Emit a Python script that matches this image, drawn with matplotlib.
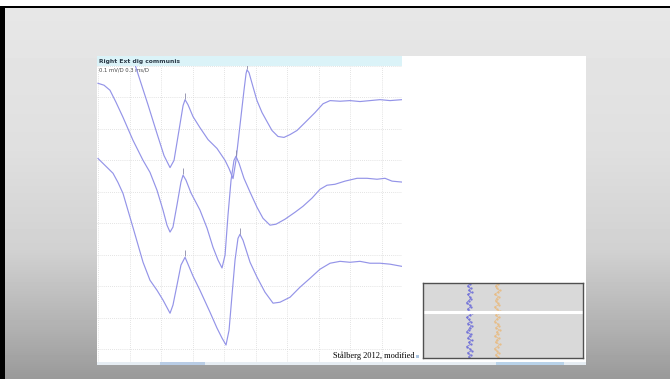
import numpy as np
import matplotlib
matplotlib.use("Agg")
import matplotlib.pyplot as plt
from matplotlib.patches import Rectangle

# --- data: three consecutive sweeps (time in ms, amplitude in mV relative to each sweep's baseline)
t1 = [0.286, 0.371, 0.476, 0.562, 0.629, 0.686, 0.724, 0.771, 0.810, 0.829, 0.857, 0.905,
      0.971, 1.048, 1.133, 1.210, 1.248, 1.286, 1.314, 1.352, 1.390, 1.410, 1.419, 1.438,
      1.476, 1.514, 1.562, 1.610, 1.657, 1.714, 1.771, 1.829, 1.895, 1.971, 2.067, 2.143,
      2.210, 2.305, 2.400, 2.495, 2.590, 2.686, 2.781, 2.895]
a1 = [0.184, 0.095, -0.013, -0.105, -0.175, -0.213, -0.190, -0.095, -0.016, 0.003, -0.013, -0.051,
      -0.086, -0.124, -0.152, -0.190, -0.216, -0.248, -0.190, -0.079, 0.032, 0.086, 0.098, 0.089,
      0.044, 0.000, -0.038, -0.067, -0.095, -0.114, -0.117, -0.108, -0.095, -0.070, -0.038, -0.010,
      0.000, -0.002, 0.000, -0.003, 0.000, 0.003, 0.000, 0.003]

t2 = [0.000, 0.057, 0.114, 0.171, 0.238, 0.333, 0.429, 0.495, 0.562, 0.619, 0.657, 0.686,
      0.714, 0.752, 0.790, 0.810, 0.838, 0.886, 0.971, 1.038, 1.095, 1.143, 1.181, 1.210,
      1.238, 1.267, 1.295, 1.314, 1.343, 1.390, 1.448, 1.514, 1.571, 1.638, 1.695, 1.781,
      1.876, 1.952, 2.038, 2.114, 2.181, 2.257, 2.352, 2.467, 2.562, 2.657, 2.733, 2.800, 2.895]
a2 = [0.308, 0.302, 0.286, 0.248, 0.200, 0.127, 0.063, 0.025, -0.032, -0.095, -0.143, -0.165,
      -0.149, -0.079, -0.006, 0.016, 0.000, -0.041, -0.095, -0.152, -0.213, -0.254, -0.279, -0.238,
      -0.111, 0.000, 0.063, 0.076, 0.054, 0.006, -0.038, -0.086, -0.121, -0.143, -0.140, -0.124,
      -0.102, -0.083, -0.057, -0.029, -0.016, -0.013, -0.003, 0.006, 0.006, 0.003, 0.006, -0.003, -0.006]

t3 = [0.000, 0.067, 0.143, 0.190, 0.238, 0.333, 0.429, 0.495, 0.562, 0.619, 0.686, 0.714,
      0.752, 0.790, 0.829, 0.857, 0.905, 0.971, 1.067, 1.133, 1.181, 1.219, 1.248, 1.276,
      1.305, 1.333, 1.352, 1.381, 1.448, 1.514, 1.590, 1.667, 1.733, 1.829, 1.924, 2.019,
      2.114, 2.210, 2.305, 2.400, 2.495, 2.590, 2.686, 2.781, 2.895]
a3 = [0.333, 0.311, 0.286, 0.257, 0.222, 0.114, 0.003, -0.054, -0.086, -0.117, -0.159, -0.133,
      -0.070, -0.006, 0.019, -0.003, -0.041, -0.086, -0.156, -0.206, -0.238, -0.260, -0.213, -0.102,
      0.010, 0.079, 0.092, 0.073, 0.003, -0.044, -0.092, -0.127, -0.124, -0.108, -0.076, -0.048,
      -0.019, 0.000, 0.006, 0.003, 0.006, 0.000, 0.000, -0.003, -0.010]

baselines = [-0.110, -0.363, -0.627]          # display offset of each sweep (mV)
peak_times = [[0.829, 1.419], [0.810, 1.314], [0.829, 1.352]]  # cursor marks

# jitter raster in the inset (offsets of each sweep, arbitrary units)
blue_jitter = [0, 2, -1, 3, 1, -2, 2, 0, 3, -1, 1, 2, -2, 0, 1, 3, -1, 2, 0, -2,
               1, 3, 0, -1, 2, 1, -2, 0, 2, 1, -1, 3, 0, 2, -1, 1]
orange_jitter = [1, -1, 2, 0, -2, 1, 3, -1, 0, 2, -2, 1, 0, 3, -1, 2, 1, -2, 0, 2,
                 -1, 1, 3, 0, -2, 2, 1, -1, 0, 2, -2, 1, 3, 0, -1, 1]

W, H = 670, 379
fig = plt.figure(figsize=(6.7, 3.79), dpi=100)

# slide background (pixel coordinates)
bg = fig.add_axes([0, 0, 1, 1])
bg.set_xlim(0, W)
bg.set_ylim(H, 0)
bg.axis('off')
yy = np.arange(H)
gray = np.interp(yy, [8, 150, 250, 330, 379], [0.905, 0.875, 0.82, 0.69, 0.60])
grad = np.repeat(gray[:, None], 2, axis=1)
bg.imshow(grad, cmap='gray', vmin=0, vmax=1, extent=[0, W, H, 0], aspect='auto')
bg.add_patch(Rectangle((0, 0), W, 6, color='white', lw=0))
bg.add_patch(Rectangle((0, 6), W, 2.2, color='black', lw=0))
bg.add_patch(Rectangle((0, 6), 5, H, color='black', lw=0))
# screenshot panel
bg.add_patch(Rectangle((97, 56), 489, 308, color='white', lw=0))
bg.add_patch(Rectangle((97, 56), 305, 9.5, color='#dbf3f8', lw=0))
bg.add_patch(Rectangle((97, 361.5), 489, 3, color='#e6edf3', lw=0))
bg.add_patch(Rectangle((160, 361.5), 45, 3, color='#b9cde6', lw=0))
bg.add_patch(Rectangle((496, 361.5), 68, 3, color='#b9d3ea', lw=0))
bg.add_patch(Rectangle((416, 355), 3, 3, color='#aac4e0', lw=0))
bg.text(99, 61, 'Right Ext dig communis', fontsize=4.3, fontweight='bold',
        color='#2a3a48', va='center', ha='left')
bg.text(99, 70, '0.1 mV/D 0.3 ms/D', fontsize=3.8, color='#444444', va='center', ha='left')
bg.text(415, 358.5, 'Stålberg 2012, modified', fontsize=6, family='Liberation Serif',
        color='black', va='baseline', ha='right')

# traces
ax = fig.add_axes([97 / W, (H - 362) / H, 305 / W, 296 / H])
ax.set_facecolor('none')
ax.set_xlim(-0.0095, 2.895)
ax.set_ylim(-0.941, -0.0016)
ax.set_xticks(np.arange(0, 2.9, 0.3))
ax.set_yticks(np.arange(0, -0.95, -0.1))
ax.grid(True, linestyle=(0, (1, 1.5)), color='#dadada', lw=0.6)
ax.tick_params(length=0, labelbottom=False, labelleft=False)
for s in ax.spines.values():
    s.set_visible(False)

for t, a, base, pk in zip([t1, t2, t3], [a1, a2, a3], baselines, peak_times):
    y = np.array(a) + base
    ax.plot(t, y, color='#9494e8', lw=0.85, solid_joinstyle='round')
    pv = np.interp(pk, t, y)
    ax.plot(pk, pv + 0.012, ls='none', marker='|', ms=4, mew=0.6, color='#8a8aa8')

# inset raster
ins = fig.add_axes([423 / W, (H - 358) / H, 160 / W, 75 / H])
ins.set_facecolor('#d9d9d9')
ins.set_xlim(0, 160)
ins.set_ylim(0, len(blue_jitter))
ins.set_xticks([])
ins.set_yticks([])
for s in ins.spines.values():
    s.set_color('#505050')
    s.set_linewidth(1.0)
rows = np.arange(len(blue_jitter)) + 0.5
ins.plot(45.5 + np.array(blue_jitter), rows, color='#7070d8', lw=0.5,
         marker='.', ms=1.2)
ins.plot(73.5 + np.array(orange_jitter), rows, color='#e8bc84', lw=0.5,
         marker='.', ms=1.2)
ins.axhline(len(blue_jitter) * 0.62, color='white', lw=2.2)

fig.savefig('out.png', dpi=100)
